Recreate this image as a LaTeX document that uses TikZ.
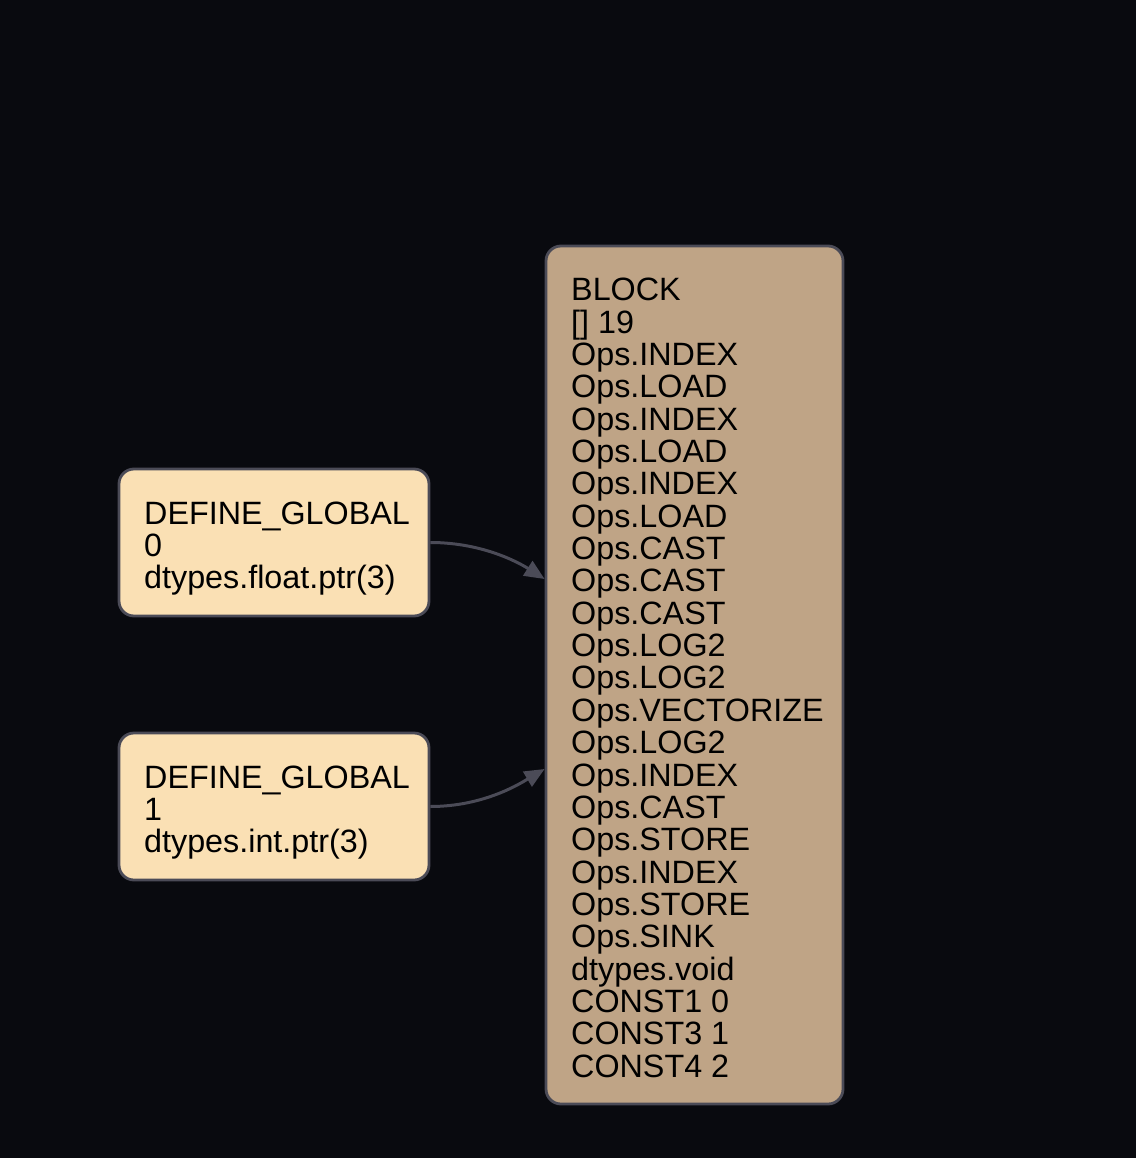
\documentclass[tikz,border=0pt]{standalone}
\usepackage{fontspec}
\setmainfont{Liberation Sans}
\usetikzlibrary{arrows.meta}
\definecolor{bg}{HTML}{090A0F}
\definecolor{leaffill}{HTML}{FAE0B4}
\definecolor{blockfill}{HTML}{BFA486}
\definecolor{edgecol}{HTML}{4B4B57}
\tikzset{
  box/.style={draw=edgecol, line width=2.8pt, rounded corners=15pt, inner sep=0pt},
  leaf/.style={box, fill=leaffill, minimum width=310pt, minimum height=147pt},
  blockbox/.style={box, fill=blockfill, minimum width=297pt, minimum height=858pt},
  txt/.style={anchor=north west, inner sep=0pt, align=left, text=black,
    font=\fontsize{32.3}{32.35}\selectfont},
  conn/.style={draw=edgecol, line width=3pt, -{Triangle[length=20pt,width=17pt]}}
}
\begin{document}
\begin{tikzpicture}[x=1pt,y=-1pt]
\fill[bg] (0,0) rectangle (1136,1158);
\useasboundingbox (0,0) rectangle (1136,1158);
\node[leaf] (g0) at (274,542.5) {};
\node[txt] (g0t) at (144,501.5) {DEFINE\_GLOBAL\\0\\dtypes.float.ptr(3)};
\node[leaf] (g1) at (274,806.5) {};
\node[txt] (g1t) at (144,765.5) {DEFINE\_GLOBAL\\1\\dtypes.int.ptr(3)};
\node[blockbox] (blk) at (694.5,675) {};
\node[txt] (blkt) at (571,278) {BLOCK\\{[]} 19\\Ops.INDEX\\Ops.LOAD\\Ops.INDEX\\Ops.LOAD\\Ops.INDEX\\Ops.LOAD\\Ops.CAST\\Ops.CAST\\Ops.CAST\\Ops.LOG2\\Ops.LOG2\\Ops.VECTORIZE\\Ops.LOG2\\Ops.INDEX\\Ops.CAST\\Ops.STORE\\Ops.INDEX\\Ops.STORE\\Ops.SINK\\dtypes.void\\CONST1 0\\CONST3 1\\CONST4 2};
\coordinate (e0) at ([yshift=96pt]blk.west);
\coordinate (e1) at ([yshift=-94pt]blk.west);
\draw[conn] (g0.east) .. controls ++(55,0) and ++(-22,-14) .. (e0);
\draw[conn] (g1.east) .. controls ++(55,0) and ++(-22,13) .. (e1);
\end{tikzpicture}
\end{document}
